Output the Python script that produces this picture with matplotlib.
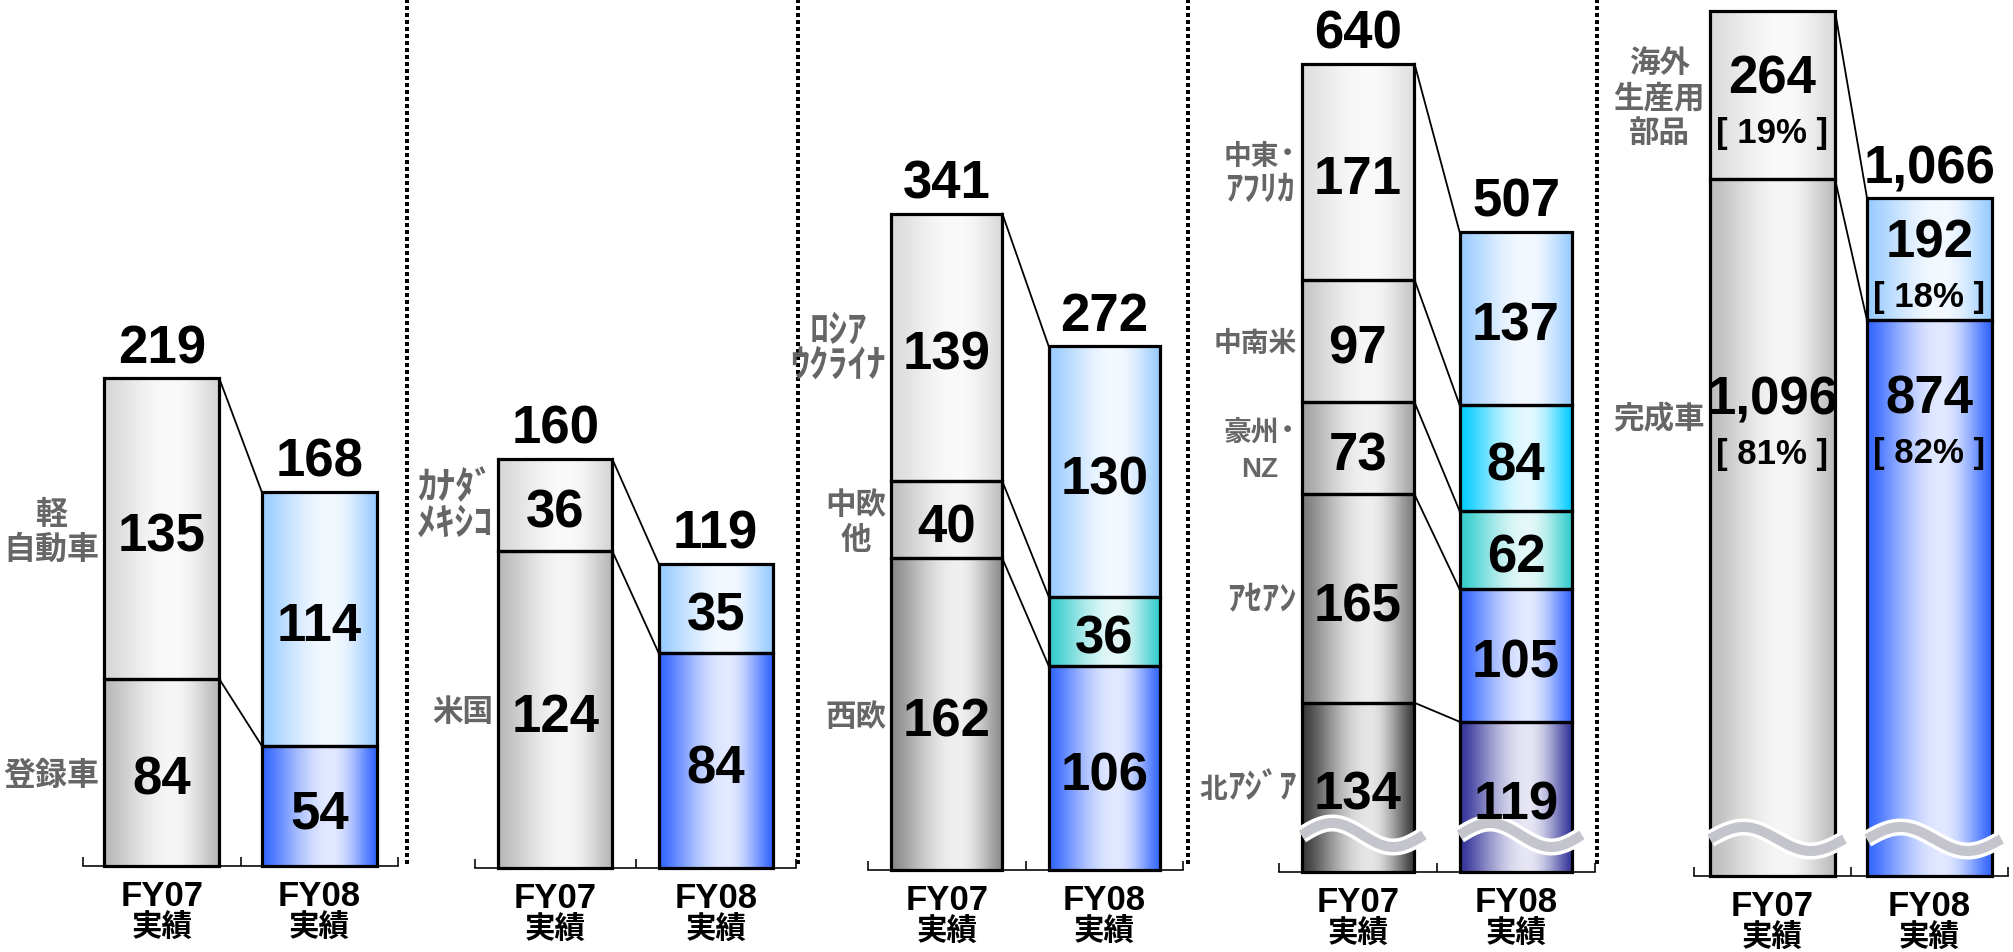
import numpy as np
import matplotlib
matplotlib.use('Agg')
import matplotlib.pyplot as plt
from matplotlib.lines import Line2D
from matplotlib.colors import to_rgb

plt.rcParams['font.family'] = ['Liberation Sans', 'Noto Sans CJK JP', 'DejaVu Sans']

# ------------------------------------------------------------------ data
bar_names = ['FY07', 'FY08']
bar_sub = '実績'

p1_categories = ['登録車', '軽\n自動車']
p1_fy07 = [84, 135]
p1_fy08 = [54, 114]

p2_categories = ['米国', 'ｶﾅﾀﾞ\nﾒｷｼｺ']
p2_fy07 = [124, 36]
p2_fy08 = [84, 35]

p3_categories = ['西欧', '中欧\n他', 'ﾛｼｱ\nｳｸﾗｲﾅ']
p3_fy07 = [162, 40, 139]
p3_fy08 = [106, 36, 130]

p4_categories = ['北ｱｼﾞｱ', 'ｱｾｱﾝ', '豪州･\nNZ', '中南米', '中東･\nｱﾌﾘｶ']
p4_fy07 = [134, 165, 73, 97, 171]
p4_fy08 = [119, 105, 62, 84, 137]

p5_categories = ['完成車', '海外\n生産用\n部品']
p5_fy07 = [1096, 264]
p5_fy08 = [874, 192]
p5_fy07_share = ['81%', '19%']
p5_fy08_share = ['82%', '18%']
p5_show_total = [False, True]

# ------------------------------------------------------------------ style
W, H = 2013, 953
LB = ('#99CCFF', '#F4F9FF')   # light blue
BL = ('#3366FF', '#E2E9FF')   # blue
TE = ('#33CCCC', '#E4F8F8')   # teal
CY = ('#00CCFF', '#E4F9FF')   # cyan
NV = ('#333399', '#E6E6F4')   # navy

panels = [
    dict(cats=p1_categories, a=p1_fy07, b=p1_fy08, L=83, R=398, base=867, ppu=2.227, wf=0.73,
         ca=[('#B8B8B8', '#F6F6F6'), ('#D6D6D6', '#FAFAFA')], cb=[BL, LB], brk=False, fs_cat=23),
    dict(cats=p2_categories, a=p2_fy07, b=p2_fy08, L=475, R=796, base=869, ppu=2.557, wf=0.71,
         ca=[('#B8B8B8', '#F6F6F6'), ('#D6D6D6', '#FAFAFA')], cb=[BL, LB], brk=False, fs_cat=22),
    dict(cats=p3_categories, a=p3_fy07, b=p3_fy08, L=868, R=1183, base=871, ppu=1.925, wf=0.705,
         ca=[('#8A8A8A', '#F0F0F0'), ('#BEBEBE', '#F6F6F6'), ('#DADADA', '#FAFAFA')],
         cb=[BL, TE, LB], brk=False, fs_cat=22),
    dict(cats=p4_categories, a=p4_fy07, b=p4_fy08, L=1279, R=1595, base=873, ppu=1.263, wf=0.715,
         ca=[('#383838', '#E6E6E6'), ('#7A7A7A', '#EEEEEE'), ('#A2A2A2', '#F2F2F2'),
             ('#C6C6C6', '#F6F6F6'), ('#DEDEDE', '#FAFAFA')],
         cb=[NV, BL, TE, CY, LB], brk=True, fs_cat=20),
    dict(cats=p5_categories, a=p5_fy07, b=p5_fy08, L=1694, R=2008, base=877, ppu=0.636, wf=0.796,
         ca=[('#BCBCBC', '#F6F6F6'), ('#DADADA', '#FAFAFA')], cb=[BL, LB], brk=True, fs_cat=22,
         shares=[p5_fy07_share, p5_fy08_share], totals=p5_show_total,
         label_frac=[[0.66, 0.5], [0.83, 0.5]]),
]
separators = [407, 798, 1188, 1597]

PT = 72.0 / 100.0  # points per pixel at dpi 100
GRAY = '#666666'


def grad_img(edge, center, peak=0.6, n=256):
    t = np.linspace(0, 1, n)
    w = np.where(t < peak, t / peak, (1 - t) / (1 - peak))
    w = np.sin(w * np.pi / 2) ** 1.3
    e = np.array(to_rgb(edge))
    c = np.array(to_rgb(center))
    img = e[None, :] + (c - e)[None, :] * w[:, None]
    return img[None, :, :]


def is_half(ch):
    return 0xFF61 <= ord(ch) <= 0xFF9F


def split_runs(line):
    runs = []
    for ch in line:
        h = is_half(ch)
        if runs and runs[-1][1] == h:
            runs[-1][0] += ch
        else:
            runs.append([ch, h])
    return runs


fig = plt.figure(figsize=(W / 100, H / 100), dpi=100)
renderer = fig.canvas.get_renderer()


def category_label(text, right_px, cy_px, fs):
    """Gray region label, right-aligned at right_px, vertically centred at cy_px
    (pixel coords from the figure top). Half-width katakana runs are drawn
    larger so they reach the height of the full-width glyphs."""
    lines = text.split('\n')
    spacing = 35
    n = len(lines)
    built = []
    for line in lines:
        arts, widths = [], []
        for s, h in split_runs(line):
            t = fig.text(0, 0, s, fontsize=fs * 1.25 if h else fs, fontweight='bold',
                         color=GRAY, ha='left', va='baseline')
            arts.append(t)
            widths.append(t.get_window_extent(renderer).width)
        built.append((arts, widths))
    block_w = max(sum(w) for _, w in built)
    cx = right_px - block_w / 2
    for li, (arts, widths) in enumerate(built):
        x0 = cx - sum(widths) / 2
        ly = cy_px + (li - (n - 1) / 2) * spacing
        base_y = ly + fs / PT * 0.36
        for t, wpx in zip(arts, widths):
            t.set_position((x0 / W, 1 - base_y / H))
            x0 += wpx


for P in panels:
    base = P['base']
    ax = fig.add_axes([P['L'] / W, 1 - base / H, (P['R'] - P['L']) / W, base / H])
    ppu = P['ppu']
    wf = P['wf']
    ax.set_xlim(-0.5, 1.5)
    ax.set_ylim(0, base / ppu)
    xs = [0, 1]
    series = [P['a'], P['b']]
    colsets = [P['ca'], P['cb']]
    cum = [np.concatenate([[0], np.cumsum(s)]) for s in series]
    for i, (x, vals, cols) in enumerate(zip(xs, series, colsets)):
        bottom = 0
        for j, (v, (ec, cc)) in enumerate(zip(vals, cols)):
            r = ax.bar(x, v, wf, bottom=bottom, facecolor='none', edgecolor='black',
                       linewidth=2.3, zorder=3, clip_on=False)[0]
            im = ax.imshow(grad_img(ec, cc), extent=[x - wf / 2, x + wf / 2, bottom, bottom + v],
                           aspect='auto', zorder=2, interpolation='bilinear')
            im.set_clip_path(r)
            frac = P['label_frac'][i][j] if 'label_frac' in P else 0.5
            ya = bottom + v * frac
            txt = f'{v:,}'
            if 'shares' in P:
                ax.annotate(txt, (x, ya), xytext=(0, 22 * PT), textcoords='offset points',
                            ha='center', va='center_baseline', fontsize=38, fontweight='bold',
                            color='black', zorder=8)
                ax.annotate('[ ' + P['shares'][i][j] + ' ]', (x, ya), xytext=(0, -34 * PT),
                            textcoords='offset points', ha='center', va='center_baseline',
                            fontsize=25, fontweight='bold', color='black', zorder=8)
            else:
                ax.annotate(txt, (x, ya), xytext=(0, -2 * PT), textcoords='offset points',
                            ha='center', va='center_baseline', fontsize=38, fontweight='bold',
                            color='black', zorder=8)
            if i == 0:
                px, py = ax.transData.transform((x - wf / 2, ya))
                category_label(P['cats'][j], px - 5, H - py, P['fs_cat'])
            bottom += v
        total = sum(vals)
        if P.get('totals', [True, True])[i]:
            ax.annotate(f'{total:,}', (x, total), xytext=(0, 16 * PT), textcoords='offset points',
                        ha='center', va='baseline', fontsize=38, fontweight='bold', color='black')
        ax.annotate(bar_names[i], (x, 0), xytext=(0, -30 * PT), textcoords='offset points',
                    ha='center', va='center', fontsize=25, fontweight='bold', color='black')
        ax.annotate(bar_sub, (x, 0), xytext=(0, -62 * PT), textcoords='offset points',
                    ha='center', va='center', fontsize=22, fontweight='bold', color='black')
        if P['brk']:
            wx = np.linspace(x - wf / 2, x + wf / 2 + 0.06, 120)
            t = (wx - wx[0]) / (wx[-1] - wx[0])
            wy = 37 / ppu + (12 / ppu) * np.sin(2 * np.pi * t)
            ax.plot(wx, wy, color='white', lw=17 * PT, solid_capstyle='butt', zorder=6, clip_on=False)
            ax.plot(wx, wy, color='#C4C4CC', lw=10 * PT, solid_capstyle='butt', zorder=7, clip_on=False)
    for k in range(1, len(cum[0])):
        ax.plot([xs[0] + wf / 2, xs[1] - wf / 2], [cum[0][k], cum[1][k]], color='black',
                lw=1.8 * PT, zorder=4, clip_on=False)
    for s in ['top', 'left', 'right']:
        ax.spines[s].set_visible(False)
    ax.spines['bottom'].set_linewidth(1.6 * PT)
    ax.set_xticks([-0.5, 0.5, 1.5])
    ax.tick_params(axis='x', direction='in', length=9 * PT, width=1.6 * PT, labelbottom=False)
    ax.set_yticks([])
    ax.patch.set_alpha(0)

for sx in separators:
    fig.add_artist(Line2D([sx / W, sx / W], [1, 1 - 866 / H], transform=fig.transFigure,
                          color='black', lw=4.0 * PT, linestyle=(0, (0.95, 0.9)),
                          dash_capstyle='butt', antialiased=False))

fig.savefig('out.png', dpi=100)
